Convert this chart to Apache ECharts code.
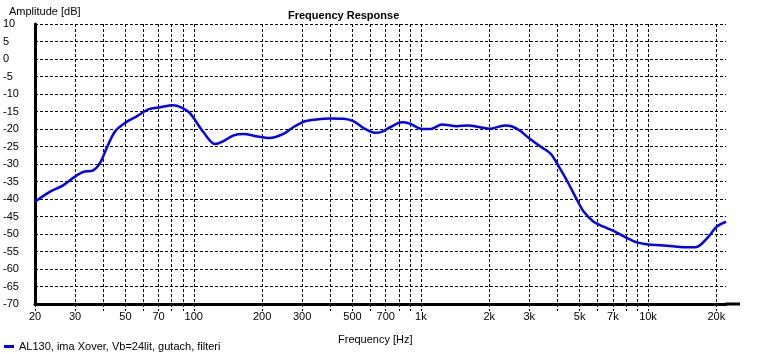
<!DOCTYPE html>
<html>
<head>
<meta charset="utf-8">
<script src="https://cdn.jsdelivr.net/npm/echarts@6/dist/echarts.min.js"></script>
<style>
	html, body { margin: 0; padding: 0; background: #fff; }
	#chart { width: 775px; height: 354px; }
</style>
</head>
<body>
<div id="chart"></div>
<script>
// frequency response
const freqHz = [20, 23.3, 26.6, 30, 32.6, 36.1, 38.7, 41.4, 45, 50, 56.1, 63.1, 71, 81, 88, 96, 110, 124, 133, 150, 166, 189, 216, 248, 274, 309, 347, 399, 456, 506, 558, 628, 672, 733, 822, 897, 1010, 1118, 1237, 1436, 1617, 1820, 2012, 2340, 2506, 2734, 2978, 3361, 3730, 3992, 4106, 4460, 4866, 5208, 5760, 6370, 7040, 7940, 8920, 10040, 11300, 12920, 14780, 16100, 16930, 18440, 20080, 22050];
const amplitudeDb = [-40.8, -37.9, -36.1, -33.6, -32.3, -31.8, -29.7, -25.4, -20.7, -18.2, -16.4, -14.4, -13.8, -13.2, -13.8, -15.4, -20.8, -24.3, -23.7, -21.8, -21.4, -22.1, -22.6, -21.4, -19.5, -17.8, -17.3, -17.0, -17.1, -17.8, -19.7, -21.1, -20.8, -19.5, -18.1, -18.5, -20.0, -19.9, -18.7, -19.2, -19.0, -19.5, -19.9, -19.0, -19.2, -20.5, -22.5, -25.0, -27.1, -30.0, -31.4, -35.5, -40.2, -43.6, -46.5, -47.9, -49.1, -50.9, -52.4, -53.0, -53.2, -53.5, -53.8, -53.8, -53.2, -50.8, -47.9, -46.5];

// grid lines and labels of the frequency axis
const gridFreqs = [20, 30, 40, 50, 60, 70, 80, 90, 100, 200, 300, 400, 500, 600, 700, 800, 900, 1000, 2000, 3000, 4000, 5000, 6000, 7000, 8000, 9000, 10000, 20000];
const labelFreqs = [20, 30, 50, 70, 100, 200, 300, 500, 700, 1000, 2000, 3000, 5000, 7000, 10000, 20000];

const seriesName = 'AL130, ima Xover, Vb=24lit, gutach, filteri';
const font = '"Liberation Sans", Arial, sans-serif';

let myChart = echarts.init(document.getElementById('chart'));
myChart.setOption({
	animation: false,
	textStyle: { fontFamily: font },
	title: [
		{
			text: 'Frequency Response',
			left: 283, top: 5,
			textStyle: { fontSize: 11, fontWeight: 'bold', color: '#000', fontFamily: font }
		},
		{
			text: 'Amplitude [dB]',
			left: 4, top: 1,
			textStyle: { fontSize: 11, fontWeight: 'normal', color: '#000', fontFamily: font }
		},
		{
			text: 'Frequency [Hz]',
			left: 333, top: 329,
			textStyle: { fontSize: 11, fontWeight: 'normal', color: '#000', fontFamily: font }
		}
	],
	legend: {
		left: 4, top: 341,
		padding: 0,
		icon: 'rect',
		itemWidth: 10, itemHeight: 3,
		textStyle: { fontSize: 11, color: '#000', fontFamily: font },
		data: [seriesName]
	},
	grid: { left: 35, right: 49, top: 24, bottom: 50 },
	xAxis: {
		type: 'log',
		logBase: 10,
		min: 20,
		max: 22050,
		axisLine: { show: true, onZero: false, lineStyle: { color: '#000', width: 3 } },
		axisTick: {
			show: true, length: 7, customValues: gridFreqs,
			lineStyle: { color: '#000', type: [3, 2], width: 1 }
		},
		axisLabel: {
			customValues: labelFreqs,
			margin: 7,
			fontSize: 11, color: '#000', fontFamily: font,
			formatter: function (v) { return v >= 1000 ? (v / 1000) + 'k' : String(v); }
		},
		splitLine: { show: true, lineStyle: { color: '#000', type: [3, 2], width: 1 } },
		minorTick: { show: false },
		minorSplitLine: { show: false }
	},
	yAxis: {
		type: 'value',
		min: -70,
		max: 10,
		interval: 5,
		axisLine: { show: true, lineStyle: { color: '#000', width: 3 } },
		axisTick: { show: false },
		axisLabel: { align: 'left', margin: 32, fontSize: 11, color: '#000', fontFamily: font },
		splitLine: { show: true, lineStyle: { color: '#000', type: [3, 2], width: 1 } }
	},
	graphic: [
		{ type: 'line', shape: { x1: 725, y1: 304, x2: 740, y2: 304 }, style: { stroke: '#000', lineWidth: 3 } }
	],
	series: [
		{
			name: seriesName,
			type: 'line',
			data: freqHz.map((f, i) => [f, amplitudeDb[i]]),
			showSymbol: false,
			smooth: 0.3,
			lineStyle: { color: '#0000ff', width: 2.5 },
			itemStyle: { color: '#0000ff' }
		}
	]
});
</script>
</body>
</html>
